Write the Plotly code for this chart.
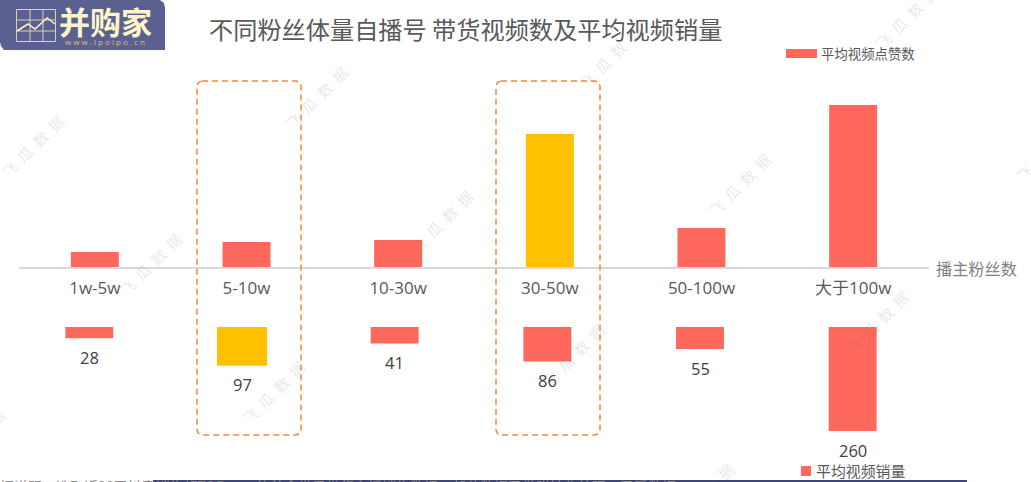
import plotly.graph_objects as go

W, H = 1031, 482
categories = ["1w-5w", "5-10w", "10-30w", "30-50w", "50-100w", "大于100w"]
avg_likes = [15, 25, 27, 133, 39, 162]
avg_sales = [28, 97, 41, 86, 55, 260]
like_colors = ["#FF685C", "#FF685C", "#FF685C", "#FFC000", "#FF685C", "#FF685C"]
sales_colors = ["#FF685C", "#FFC000", "#FF685C", "#FF685C", "#FF685C", "#FF685C"]
sales_widths = [0.314, 0.328, 0.314, 0.314, 0.314, 0.314]

title_text = "不同粉丝体量自播号 带货视频数及平均视频销量"
legend_likes = "平均视频点赞数"
legend_sales = "平均视频销量"
axis_name = "播主粉丝数"
footer_text = "数据说明：选取近30天抖音销售额TOP1000的美食类目带货主播销售数据，部分数据已做脱敏化处理，已采数据"
watermark = "飞  瓜  数  据"
watermark_centers = [(32, 146), (317, 98), (442, 222), (150, 264), (740, 185), (610, 57),
                     (907, 18), (1047, 150), (273, 392), (-27, 440), (877, 322), (573, 355),
                     (703, 495), (208, -25)]

FONT = "Noto Sans CJK SC"
LATIN = "Open Sans, Noto Sans CJK SC"


def px(x):
    return x / W


def py(y):
    return 1 - y / H


fig = go.Figure()
fig.add_trace(go.Bar(x=categories, y=avg_likes, name=legend_likes, marker_color=like_colors,
                     marker_line_width=0, width=0.3165, xaxis="x", yaxis="y", showlegend=False))
fig.add_trace(go.Bar(x=categories, y=avg_sales, name=legend_sales, marker_color=sales_colors,
                     marker_line_width=0, width=sales_widths, xaxis="x2", yaxis="y2", showlegend=False))

annotations = []
for (cx, cy) in watermark_centers:
    annotations.append(dict(x=px(cx), y=py(cy), xref="paper", yref="paper", text=watermark, textangle=-45,
                            showarrow=False, font=dict(family=FONT, size=15, color="rgba(110,110,110,0.17)"),
                            xanchor="center", yanchor="middle"))
for c, v in zip(categories, avg_sales):
    annotations.append(dict(x=c, y=v, xref="x2", yref="y2", text=str(v), showarrow=False, yshift=-19,
                            font=dict(family=LATIN, size=16.5, color="#404040"),
                            xanchor="center", yanchor="middle"))


def paper_text(text, x, y, size, color, anchor="left", family=FONT, weight=None):
    font = dict(family=family, size=size, color=color)
    if weight:
        font["weight"] = weight
    annotations.append(dict(x=px(x), y=py(y), xref="paper", yref="paper", text=text, showarrow=False,
                            font=font, xanchor=anchor, yanchor="middle", xshift=0, borderpad=0, borderwidth=0))


paper_text(title_text, 209, 28, 24.2, "#595959")
paper_text(legend_likes, 821, 53, 13.4, "#595959")
paper_text(legend_sales, 816, 470, 14.9, "#595959")
paper_text(axis_name, 936, 268, 16.2, "#7F7F7F")
paper_text(footer_text, -14, 486, 14, "#8C8C8C")
paper_text("并购家", 105, 21, 31, "#FDF5C8", anchor="center", weight=700)
paper_text("w w w . i p o i p o . c n", 105, 41, 8, "#E2BC78", anchor="center", family="Open Sans")

shapes = []


def rect(x0, y0, x1, y1, color, layer="above"):
    shapes.append(dict(type="rect", xref="paper", yref="paper", x0=px(x0), x1=px(x1), y0=py(y0), y1=py(y1),
                       fillcolor=color, line_width=0, layer=layer))


def path(points, color, width, dash="solid", closed=False):
    d = "M " + " L ".join(f"{px(a):.5f},{py(b):.5f}" for a, b in points) + (" Z" if closed else "")
    shapes.append(dict(type="path", xref="paper", yref="paper", path=d, line=dict(color=color, width=width, dash=dash)))


def round_rect(x0, y0, x1, y1, r):
    a = r * 0.3
    return [(x0 + r, y0), (x1 - r, y0), (x1 - a, y0 + a), (x1, y0 + r), (x1, y1 - r), (x1 - a, y1 - a), (x1 - r, y1),
            (x0 + r, y1), (x0 + a, y1 - a), (x0, y1 - r), (x0, y0 + r), (x0 + a, y0 + a), (x0 + r, y0)]


# logo
logo = [(0, 0), (160, 0), (164, 3), (165, 8), (165, 50), (4, 50), (1, 46), (0, 42)]
d = "M " + " L ".join(f"{px(a):.5f},{py(b):.5f}" for a, b in logo) + " Z"
shapes.append(dict(type="path", xref="paper", yref="paper", path=d, fillcolor="#5A6090", line_width=0, layer="below"))
for gx in (16.5, 30, 43, 55.5):
    path([(gx, 9.5), (gx, 41.5)], "#D9D5B4", 1)
for gy in (9.5, 20, 31, 41.5):
    path([(16.5, gy), (55.5, gy)], "#D9D5B4", 1)
path([(17, 31), (28, 24), (35, 29), (47, 18), (55, 24)], "#FDF5C8", 1.5)

# highlight frames
path(round_rect(197, 81, 301, 435, 5), "#F5853C", 1.5, dash="6px,4px")
path(round_rect(496, 81, 600, 435, 5), "#F5853C", 1.5, dash="6px,4px")

# legend keys and footer rule
rect(786, 49, 817, 58, "#FF685C")
rect(801, 466, 811, 476, "#FF685C")
rect(153, 480, 967, 482, "#3F4577")

fig.update_layout(
    width=W, height=H, margin=dict(l=0, r=0, t=0, b=0), paper_bgcolor="white", plot_bgcolor="rgba(0,0,0,0)",
    annotations=annotations, shapes=shapes, showlegend=False,
    xaxis=dict(domain=[px(19), px(929)], type="category", categoryorder="array", categoryarray=categories,
               anchor="y", showline=True, linecolor="#D9D9D9", linewidth=2, showgrid=False, zeroline=False,
               ticks="outside", ticklen=5, tickcolor="rgba(0,0,0,0)", tickwidth=0,
               tickfont=dict(family=LATIN, size=17, color="#595959")),
    yaxis=dict(domain=[py(267), py(60)], range=[0, 207], visible=False, fixedrange=True),
    xaxis2=dict(domain=[px(13), px(929)], type="category", categoryorder="array", categoryarray=categories,
                anchor="y2", visible=False),
    yaxis2=dict(domain=[py(440), py(327)], range=[282.5, 0], visible=False, fixedrange=True),
)

fig.write_html("out.html", config={"displayModeBar": False}, post_script="document.body.style.margin='0';")
